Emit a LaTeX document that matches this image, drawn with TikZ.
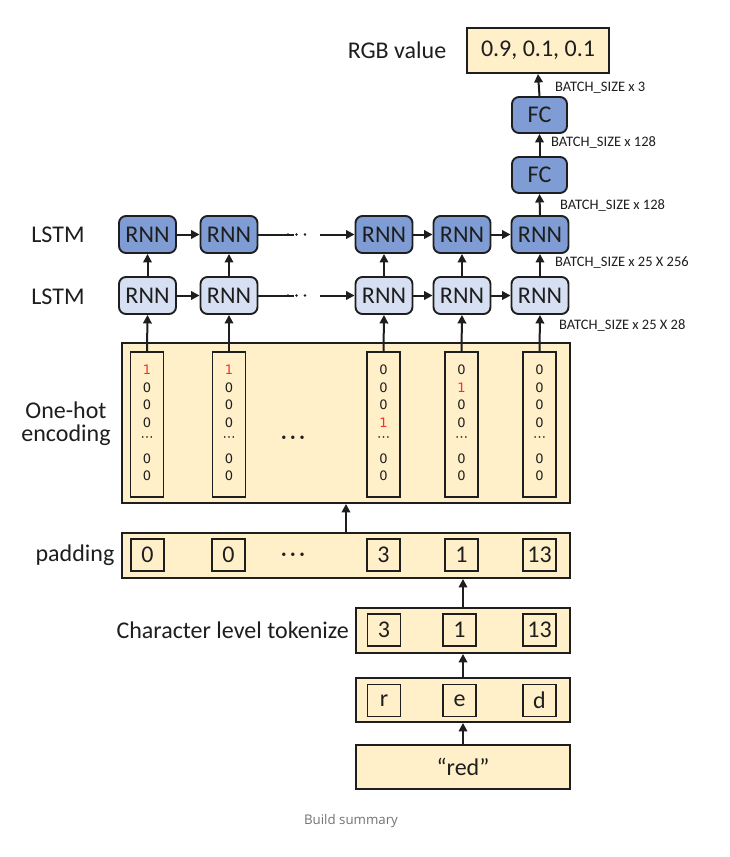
\documentclass[tikz,border=0pt]{standalone}
\usepackage{fontspec}
\setmainfont{Carlito}
\newfontfamily\digfont{DejaVu Sans}
\newfontfamily\uifont{Open Sans}
\usetikzlibrary{arrows.meta,calc}
\definecolor{cream}{HTML}{FFF0CA}
\definecolor{dkblue}{HTML}{7F9DD4}
\definecolor{ltblue}{HTML}{D7E0F2}
\definecolor{edgec}{HTML}{1E1E1E}
\definecolor{onered}{HTML}{FF2A2A}
\begin{document}
\begin{tikzpicture}[x=1pt,y=-1pt,
  big/.style={font=\fontsize{24}{26}\selectfont, text=edgec},
  small/.style={font=\fontsize{14.5}{16}\selectfont, text=edgec, anchor=west, inner sep=0pt},
  box/.style={draw=edgec, line width=1.9pt, fill=cream, inner sep=0pt},
  ibox/.style={draw=edgec, line width=1.7pt, fill=cream, minimum width=33pt, minimum height=32pt, inner sep=0pt, big},
  rnnd/.style={draw=edgec, line width=1.9pt, rounded corners=7pt, fill=dkblue, minimum width=57pt, minimum height=37pt, inner sep=0pt, big},
  rnnl/.style={rnnd, fill=ltblue},
  col/.style={draw=edgec, line width=1.7pt, fill=cream, minimum width=33pt, minimum height=145pt, inner sep=0pt},
  dig/.style={font=\digfont\fontsize{13}{15}\selectfont, text=edgec, inner sep=0pt},
  arr/.style={-{Triangle[length=8.5pt,width=8.5pt]}, line width=2pt, draw=edgec},
  ell/.style={big, inner sep=0pt}
]
\useasboundingbox (0,0) rectangle (730,857);
\fill[white] (0,0) rectangle (730,857);

% top output
\node[box, big, minimum width=142pt, minimum height=45pt] (rgb) at (538,50.5) {0.9, 0.1, 0.1};
\node[big] (rgbl) at (397,50) {RGB value};
\node[rnnd, minimum width=55pt, minimum height=36pt] (fcA) at (539.5,115) {FC};
\node[rnnd, minimum width=55pt, minimum height=36pt] (fcB) at (539.5,175) {FC};

% RNN rows
\foreach \i/\x in {1/147.5,2/229,3/384,4/462,5/540}{
  \node[rnnd] (t\i) at (\x,234.5) {RNN};
  \node[rnnl] (b\i) at (\x,295.5) {RNN};
}
\node[big] (lstm1) at (58,235) {LSTM};
\node[big] (lstm2) at (58,297) {LSTM};

% one-hot
\node[box, minimum width=448pt, minimum height=160pt] (oh) at (346,423) {};
\node[big, align=center] (ohl) at (66,424) {One-hot\\[-3pt]encoding};
\node[ell] (ohdots) at (293,440) {·\hspace{3pt}·\hspace{3pt}·};
\foreach \i/\x in {1/147,2/229,3/383.5,4/461.5,5/539.5}{
  \node[col] (c\i) at (\x,424.5) {};
}
\newcommand\colvals[8]{%
  \foreach \v [count=\k] in {#2,#3,#4,#5}{
    \pgfmathsetmacro\yy{371+17.5*(\k-1)}
    \node[dig] at ($(#1.north)+(0,\yy-352)$) {\v};
  }
  \node[dig] at ($(#1.north)+(0,88)$) {⋯};
  \node[dig] at ($(#1.north)+(0,108)$) {#6};
  \node[dig] at ($(#1.north)+(0,125)$) {#7};
}
\colvals{c1}{\textcolor{onered}{1}}{0}{0}{0}{0}{0}{}
\colvals{c2}{\textcolor{onered}{1}}{0}{0}{0}{0}{0}{}
\colvals{c3}{0}{0}{0}{\textcolor{onered}{1}}{0}{0}{}
\colvals{c4}{0}{\textcolor{onered}{1}}{0}{0}{0}{0}{}
\colvals{c5}{0}{0}{0}{0}{0}{0}{}

% padding
\node[box, minimum width=448pt, minimum height=45pt] (pad) at (346,555.5) {};
\node[big] (padl) at (75,555) {padding};
\foreach \i/\x/\t in {1/147.5/0,2/228.5/0,3/383.5/3,4/461.5/1,5/539.5/13}{
  \node[ibox] (p\i) at (\x,555) {\t};
}
\node[ell] (paddots) at (293,557) {·\hspace{3pt}·\hspace{3pt}·};

% tokenize
\node[box, minimum width=214pt, minimum height=45pt] (tok) at (463,630.5) {};
\node[big, anchor=east, inner sep=0pt] (tokl) at (349,630) {Character level tokenize};
\foreach \i/\x/\t in {1/384/3,2/459.5/1,3/539.5/13}{
  \node[ibox] (k\i) at (\x,630) {\t};
}

% letters
\node[box, minimum width=214pt, minimum height=44pt] (let) at (463,700) {};
\foreach \i/\x/\t in {1/384/r,2/459.5/e,3/539.5/d}{
  \node[ibox] (l\i) at (\x,700.5) {\t};
}

% word
\node[box, big, minimum width=214pt, minimum height=44pt] (word) at (463,767) {“red”};

% connectors
\draw[arr] (fcA.north) -- (rgb.south);
\draw[arr] (fcB.north) -- (fcA.south);
\draw[arr] (t5.north) -- (fcB.south);
\foreach \i in {1,...,5}{
  \draw[arr] (b\i.north) -- (t\i.south);
  \draw[arr] (c\i.north) -- (b\i.south);
}
\foreach \r in {t,b}{
  \draw[arr] (\r1.east) -- (\r2.west);
  \draw[arr] (\r2.east) -- node[fill=white, ell, minimum width=26pt, minimum height=6pt] {} (\r3.west);
  \draw[arr] (\r3.east) -- (\r4.west);
  \draw[arr] (\r4.east) -- (\r5.west);
}
\foreach \r/\yy in {t/234.5,b/295.5}{
  \foreach \xx in {288,296.5,305}{
    \fill[edgec] (\xx,\yy) circle (1.4pt);
  }
}
\draw[arr] (pad.north) -- (oh.south);
\draw[arr] (tok.north) -- (tok.north |- pad.south);
\draw[arr] (let.north) -- (tok.south);
\draw[arr] (word.north) -- (let.south);

% size labels
\node[small] (s1) at (555,88) {BATCH\_SIZE x 3};
\node[small] (s2) at (551,143) {BATCH\_SIZE x 128};
\node[small] (s3) at (560,206) {BATCH\_SIZE x 128};
\node[small] (s4) at (555,263) {BATCH\_SIZE x 25 X 256};
\node[small] (s5) at (559,326) {BATCH\_SIZE x 25 X 28};

\node[font=\uifont\fontsize{13.3}{15}\selectfont, text=black!55] (cap) at (351,821) {Build summary};
\end{tikzpicture}
\end{document}
